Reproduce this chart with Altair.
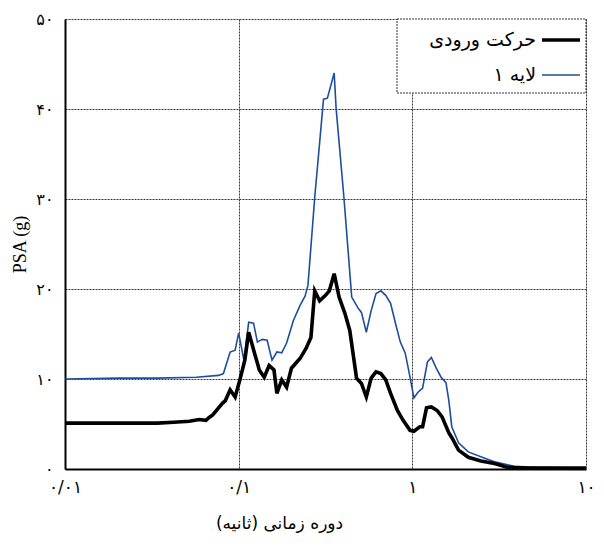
import altair as alt
import pandas as pd

series_names = ["حرکت ورودی", "لایه ۱"]

period_input = [0.01, 0.0179, 0.034, 0.0423, 0.052, 0.0592, 0.0648, 0.0673, 0.0709, 0.0766, 0.0806,
                0.0838, 0.0893, 0.0954, 0.1016, 0.1085, 0.1142, 0.1233, 0.1315, 0.1403, 0.1497, 0.1597,
                0.166, 0.177, 0.1888, 0.2013, 0.2261, 0.2443, 0.2606, 0.2742, 0.2926, 0.3162, 0.3327,
                0.3548, 0.3786, 0.409, 0.4363, 0.4772, 0.5093, 0.5433, 0.5794, 0.618, 0.659, 0.7029,
                0.7496, 0.8204, 0.8851, 0.9699, 1.021, 1.104, 1.146, 1.207, 1.287, 1.39, 1.483, 1.623,
                1.687, 1.845, 2.1, 2.483, 2.971, 3.516, 4.55, 10.0]
psa_input = [0.51, 0.51, 0.51, 0.52, 0.53, 0.55, 0.54, 0.57, 0.60, 0.68, 0.73,
             0.76, 0.88, 0.80, 0.99, 1.21, 1.52, 1.29, 1.10, 1.02, 1.15, 1.10,
             0.84, 0.99, 0.91, 1.12, 1.23, 1.34, 1.46, 1.98, 1.87, 1.93, 1.98,
             2.17, 1.91, 1.73, 1.54, 1.01, 0.95, 0.80, 1.01, 1.08, 1.06, 0.99,
             0.84, 0.65, 0.54, 0.43, 0.42, 0.47, 0.47, 0.68, 0.69, 0.65, 0.58, 0.40,
             0.35, 0.21, 0.13, 0.09, 0.06, 0.02, 0.01, 0.01]

period_layer = [0.01, 0.0203, 0.034, 0.057, 0.0766, 0.0817, 0.0893, 0.0954, 0.1, 0.1072, 0.1142,
                0.1218, 0.1282, 0.1368, 0.1459, 0.1556, 0.166, 0.177, 0.1888, 0.2066, 0.2261, 0.2411,
                0.2506, 0.2742, 0.308, 0.3243, 0.3548, 0.3639, 0.4036, 0.4477, 0.4898, 0.5093, 0.5433,
                0.5794, 0.618, 0.659, 0.7029, 0.7496, 0.7995, 0.8527, 0.9094, 0.9699, 1.021, 1.074,
                1.146, 1.222, 1.287, 1.373, 1.464, 1.562, 1.623, 1.687, 1.845, 2.1, 2.612, 2.971,
                3.846, 5.177, 10.0]
psa_layer = [1.00, 1.01, 1.01, 1.02, 1.04, 1.06, 1.30, 1.32, 1.51, 1.21, 1.63,
             1.62, 1.41, 1.44, 1.43, 1.21, 1.30, 1.29, 1.40, 1.65, 1.82, 1.92,
             2.04, 3.02, 4.11, 4.12, 4.40, 4.01, 3.02, 1.91, 1.78, 1.74, 1.52,
             1.76, 1.95, 1.98, 1.93, 1.84, 1.62, 1.41, 1.29, 1.02, 0.79, 0.85,
             0.90, 1.19, 1.24, 1.12, 1.02, 0.96, 0.76, 0.47, 0.29, 0.19, 0.12, 0.08,
             0.03, 0.02, 0.01]

x_tick_values = [0.01, 0.1, 1, 10]
x_tick_labels = ["۰/۰۱", "۰/۱", "۱", "۱۰"]
y_tick_values = [0, 1, 2, 3, 4, 5]
y_tick_labels = ["۰", "۱۰", "۲۰", "۳۰", "۴۰", "۵۰"]

x_title = "دوره زمانی (ثانیه)"
y_title = "PSA (g)"

rows = []
for i, (t, v) in enumerate(zip(period_layer, psa_layer)):
    rows.append({"period": t, "psa": v, "series": series_names[1], "idx": i})
for i, (t, v) in enumerate(zip(period_input, psa_input)):
    rows.append({"period": t, "psa": v, "series": series_names[0], "idx": i})
df = pd.DataFrame(rows)

# label expressions from the tick lists
x_expr = "'" + x_tick_labels[-1] + "'"
for val, lab in reversed(list(zip(x_tick_values[:-1], x_tick_labels[:-1]))):
    x_expr = f"datum.value < {val * 3.16} ? '{lab}' : ({x_expr})"
y_expr = "[" + ",".join(f"'{l}'" for l in y_tick_labels) + "][round(datum.value)]"

W, H = 521, 450
colors = ["#000000", "#1d4e9e"]
widths = [3.6, 1.6]

lines = alt.Chart(df).mark_line(clip=True).encode(
    x=alt.X("period:Q",
            scale=alt.Scale(type="log", domain=[0.01, 10]),
            axis=alt.Axis(values=x_tick_values, labelExpr=x_expr, title=x_title,
                          grid=True, ticks=False, labelPadding=10, titlePadding=20,
                          labelFont="DejaVu Sans", labelFontSize=17,
                          titleFont="DejaVu Sans", titleFontSize=17, titleFontWeight="normal",
                          titleX=214, titleAlign="center",
                          labelFlush=False)),
    y=alt.Y("psa:Q",
            scale=alt.Scale(domain=[0, 5], nice=False),
            axis=alt.Axis(values=y_tick_values, labelExpr=y_expr, title=y_title,
                          grid=True, ticks=False, labelPadding=12, titlePadding=6,
                          labelFont="DejaVu Sans", labelFontSize=16,
                          titleFont="Liberation Serif", titleFontSize=18, titleFontWeight="normal")),
    color=alt.Color("series:N", scale=alt.Scale(domain=series_names, range=colors), legend=None),
    strokeWidth=alt.StrokeWidth("series:N", scale=alt.Scale(domain=series_names, range=widths), legend=None),
    detail="series:N",
    order="idx:Q",
)

legend_df = pd.DataFrame({"label": series_names, "row": [0, 1]})

box = alt.Chart(pd.DataFrame({"k": [0]})).mark_rect(
    fill="white", stroke="#333333", strokeWidth=1, strokeDash=[2, 1]
).encode(x=alt.value(332), x2=alt.value(W), y=alt.value(0), y2=alt.value(74))

leg_base = alt.Chart(legend_df).transform_calculate(ypix="21 + datum.row * 35")

leg_text = leg_base.mark_text(align="right", baseline="middle", font="DejaVu Sans",
                              fontSize=19, color="black").encode(
    x=alt.value(471), y=alt.Y("ypix:Q", scale=None), text="label:N")

leg_lines = leg_base.mark_rule().encode(
    x=alt.value(477), x2=alt.value(515), y=alt.Y("ypix:Q", scale=None),
    color=alt.Color("label:N", scale=alt.Scale(domain=series_names, range=["#000000", "#4f86c6"]), legend=None),
    strokeWidth=alt.StrokeWidth("label:N", scale=alt.Scale(domain=series_names, range=[2, 1.5]), legend=None),
)

chart = alt.layer(lines, box, leg_text, leg_lines).properties(
    width=W, height=H,
    autosize=alt.AutoSizeParams(type="none"),
    padding={"left": 57, "top": 11, "right": 10, "bottom": 70},
).configure_view(stroke=None).configure_axis(
    gridColor="#222222", gridDash=[2, 1], gridWidth=1, gridOpacity=0.9,
    domainColor="black", domainWidth=2, labelColor="black", titleColor="black",
)

chart.save("out.html", embed_options={"renderer": "svg", "actions": False})
